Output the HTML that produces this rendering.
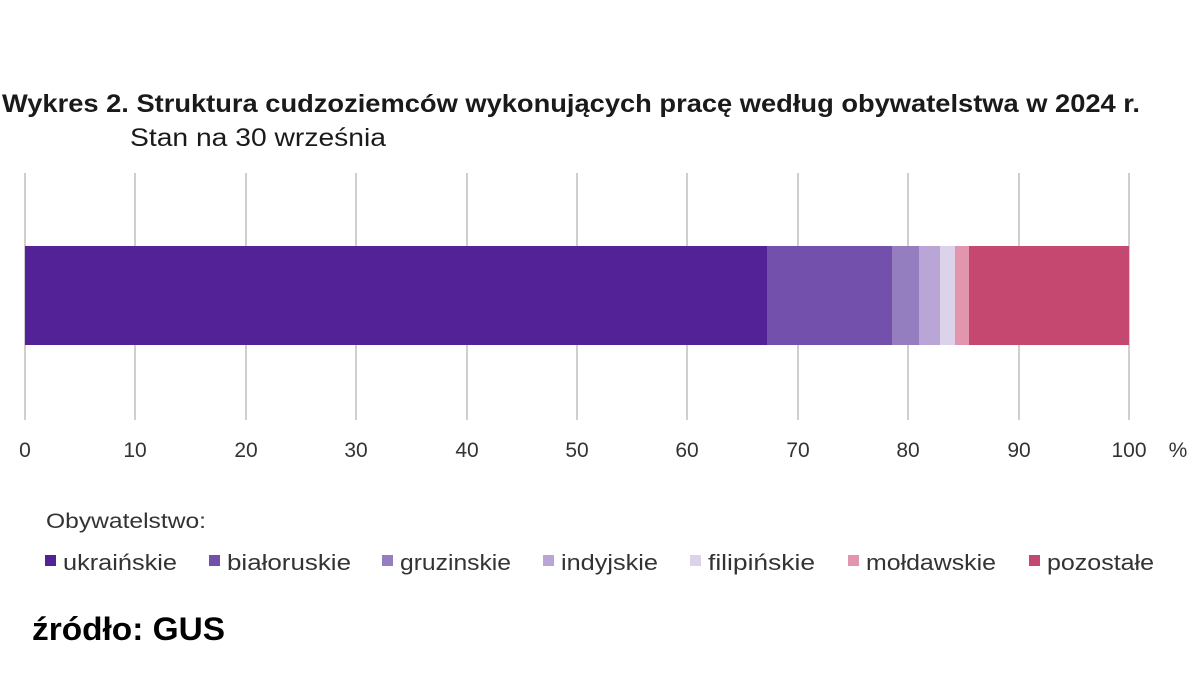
<!DOCTYPE html>
<html><head><meta charset="utf-8"><style>
html,body{margin:0;padding:0;background:#fff;}
svg{display:block;font-family:"Liberation Sans","DejaVu Sans",sans-serif;}
</style></head><body>
<svg width="1200" height="675" viewBox="0 0 1200 675">
<rect width="1200" height="675" fill="#fff"/>
<text x="2" y="112" font-size="25" font-weight="bold" fill="#1a1a1a" textLength="1138" lengthAdjust="spacingAndGlyphs">Wykres 2. Struktura cudzoziemców wykonujących pracę według obywatelstwa w 2024 r.</text>
<text x="130" y="146" font-size="25" fill="#1a1a1a" textLength="256" lengthAdjust="spacingAndGlyphs">Stan na 30 września</text>
<g stroke="#cfcfcf" stroke-width="2">
<line x1="25" y1="173" x2="25" y2="420"/><line x1="135" y1="173" x2="135" y2="420"/>
<line x1="246" y1="173" x2="246" y2="420"/><line x1="356" y1="173" x2="356" y2="420"/>
<line x1="467" y1="173" x2="467" y2="420"/><line x1="577" y1="173" x2="577" y2="420"/>
<line x1="687" y1="173" x2="687" y2="420"/><line x1="798" y1="173" x2="798" y2="420"/>
<line x1="908" y1="173" x2="908" y2="420"/><line x1="1019" y1="173" x2="1019" y2="420"/>
<line x1="1129" y1="173" x2="1129" y2="420"/>
</g>
<rect x="25" y="246" width="742" height="99" fill="#532297"/>
<rect x="767" y="246" width="125" height="99" fill="#7450ad"/>
<rect x="892" y="246" width="27" height="99" fill="#957ebf"/>
<rect x="919" y="246" width="21" height="99" fill="#b9a6d6"/>
<rect x="940" y="246" width="15" height="99" fill="#dcd2ea"/>
<rect x="955" y="246" width="14" height="99" fill="#e196ae"/>
<rect x="969" y="246" width="160" height="99" fill="#c4486f"/>
<g font-size="21" fill="#333" text-anchor="middle">
<text x="25" y="457">0</text><text x="135" y="457">10</text><text x="246" y="457">20</text>
<text x="356" y="457">30</text><text x="467" y="457">40</text><text x="577" y="457">50</text>
<text x="687" y="457">60</text><text x="798" y="457">70</text><text x="908" y="457">80</text>
<text x="1019" y="457">90</text><text x="1129" y="457">100</text><text x="1178" y="457">%</text>
</g>
<text x="46" y="528" font-size="21" fill="#333" textLength="160" lengthAdjust="spacingAndGlyphs">Obywatelstwo:</text>
<g font-size="22" fill="#333">
<rect x="45" y="555" width="11" height="11" fill="#532297"/><text x="63" y="570" textLength="114" lengthAdjust="spacingAndGlyphs">ukraińskie</text>
<rect x="209" y="555" width="11" height="11" fill="#7450ad"/><text x="227" y="570" textLength="124" lengthAdjust="spacingAndGlyphs">białoruskie</text>
<rect x="382" y="555" width="11" height="11" fill="#957ebf"/><text x="400" y="570" textLength="111" lengthAdjust="spacingAndGlyphs">gruzinskie</text>
<rect x="543" y="555" width="11" height="11" fill="#b9a6d6"/><text x="561" y="570" textLength="97" lengthAdjust="spacingAndGlyphs">indyjskie</text>
<rect x="690" y="555" width="11" height="11" fill="#dcd2ea"/><text x="708" y="570" textLength="107" lengthAdjust="spacingAndGlyphs">filipińskie</text>
<rect x="848" y="555" width="11" height="11" fill="#e196ae"/><text x="866" y="570" textLength="130" lengthAdjust="spacingAndGlyphs">mołdawskie</text>
<rect x="1029" y="555" width="11" height="11" fill="#c4486f"/><text x="1047" y="570" textLength="107" lengthAdjust="spacingAndGlyphs">pozostałe</text>
</g>
<text x="32" y="640" font-size="32" font-weight="bold" fill="#000" textLength="193" lengthAdjust="spacingAndGlyphs">źródło: GUS</text>
</svg>
</body></html>
